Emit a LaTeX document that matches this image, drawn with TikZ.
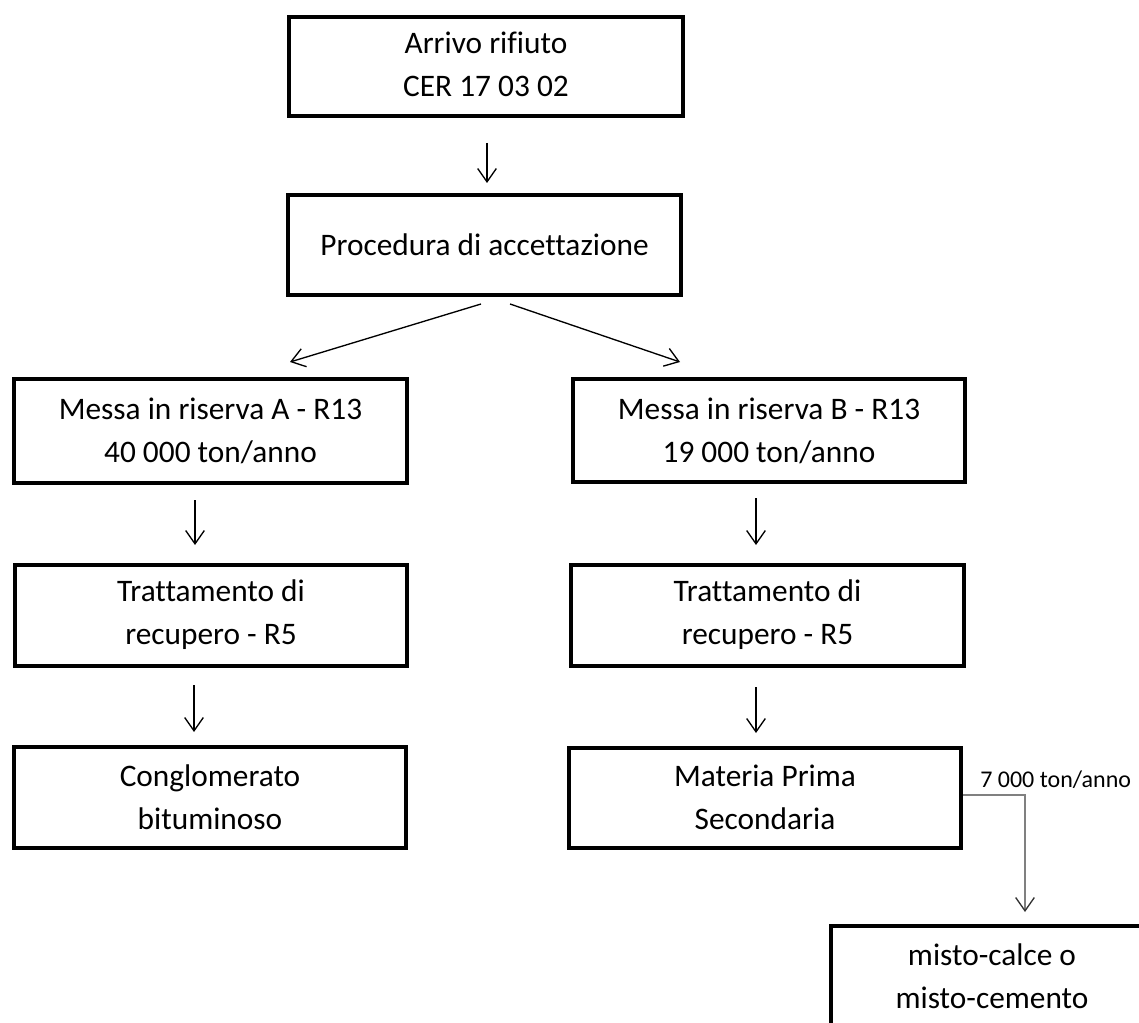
\documentclass[tikz,border=0pt]{standalone}
\usepackage{fontspec}
\setmainfont[Ligatures=NoCommon]{Carlito}
\usetikzlibrary{arrows.meta}
\begin{document}
\begin{tikzpicture}[x=0.75pt,y=-0.75pt,
  box/.style={draw=black, line width=3pt, rectangle, inner sep=0pt, align=center,
    minimum width=294.5pt, minimum height=75.75pt,
    font=\fontsize{23.5}{32.25}\selectfont},
  arr/.style={draw=black, line width=1pt, -{Straight Barb[length=10pt,width=14pt,line width=1pt]}},
  garr/.style={draw=black!50, line width=1.1pt, -{Straight Barb[length=10pt,width=14pt,line width=1pt,color=black!80]}},
  lbl/.style={inner sep=0pt, font=\fontsize{18}{22}\selectfont}
]
\useasboundingbox (0,0) rectangle (1139,1023);
\fill[white] (0,0) rectangle (1139,1023);
\clip (0,0) rectangle (1139,1023);

% boxes
\node[box, minimum width=295.5pt, minimum height=74.5pt] (arrivo) at (486,66.5)
  {\raisebox{4.5pt}{\begin{tabular}{@{}c@{}}Arrivo rifiuto\\CER 17 03 02\end{tabular}}};
\node[box, minimum height=75pt] (proc) at (484.5,245) {Procedura di accettazione};
\node[box, minimum height=78pt] (resA) at (210.5,431) {Messa in riserva A - R13\\40 000 ton/anno};
\node[box, minimum height=77pt] (resB) at (769,430.5) {Messa in riserva B - R13\\19 000 ton/anno};
\node[box] (trA) at (211,615) {Trattamento di\\recupero - R5};
\node[box] (trB) at (767.5,615) {Trattamento di\\recupero - R5};
\node[box] (cong) at (210,797.5) {Conglomerato\\bituminoso};
\node[box, minimum height=75pt] (mps) at (765,797.5) {Materia Prima\\Secondaria};
\node[box, minimum width=241.5pt] (misto) at (992,976.5) {misto-calce o\\misto-cemento};

% connector end points
\coordinate (a0s) at (487,143);
\coordinate (a0e) at (487,183);
\coordinate (dls) at (481,304);
\coordinate (dle) at (290,362);
\coordinate (drs) at (510,304);
\coordinate (dre) at (680,362);
\coordinate (a1s) at (195,500);
\coordinate (a1e) at (195,545);
\coordinate (b1s) at (756,498);
\coordinate (b1e) at (756,545);
\coordinate (a2s) at (194,685);
\coordinate (a2e) at (194,732);
\coordinate (b2s) at (756,687);
\coordinate (b2e) at (756,733);
\coordinate (bend) at (1025,795);
\coordinate (mtip) at (1025,912);

% connectors
\draw[arr] (a0s) -- (a0e);
\draw[arr] (dls) -- (dle);
\draw[arr] (drs) -- (dre);
\draw[arr] (a1s) -- (a1e);
\draw[arr] (b1s) -- (b1e);
\draw[arr] (a2s) -- (a2e);
\draw[arr] (b2s) -- (b2e);
\draw[garr] (mps.east |- bend) -- (bend) -- (mtip);

\node[lbl, anchor=base west] (qty) at (980,787) {7 000 ton/anno};
\end{tikzpicture}
\end{document}
